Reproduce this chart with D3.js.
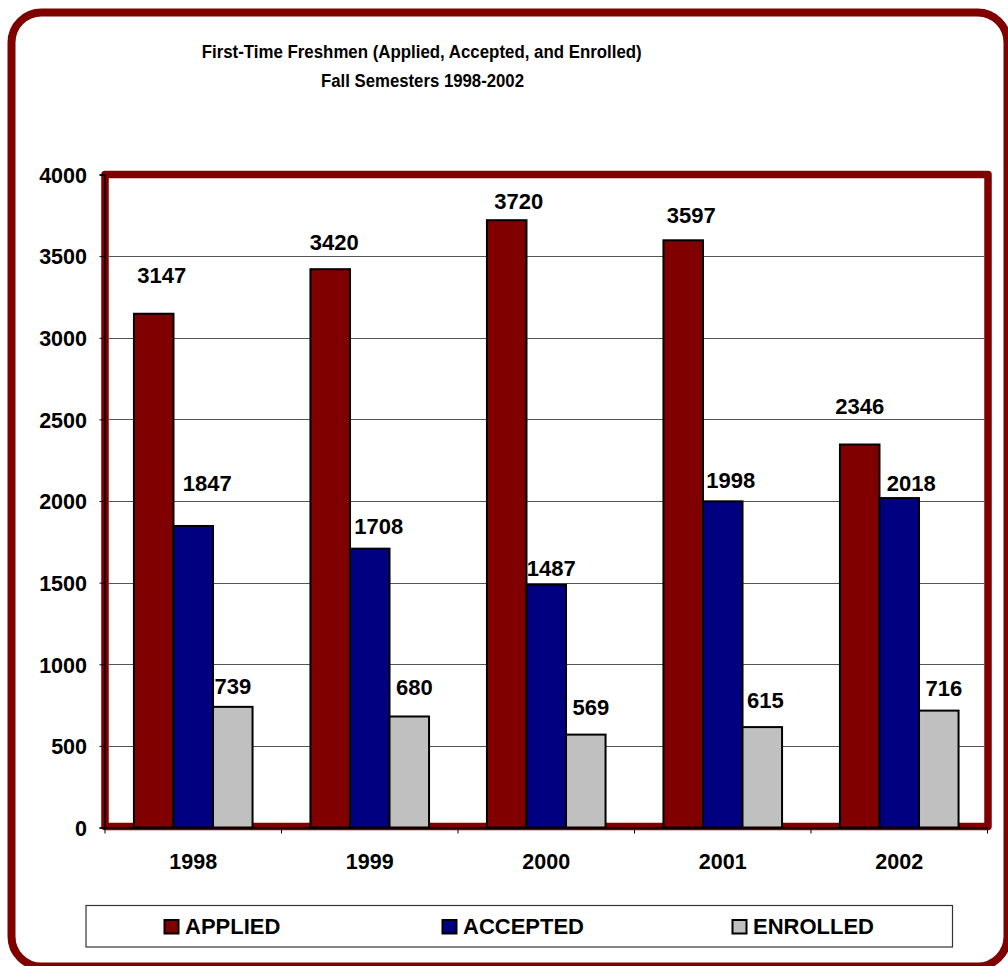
<!DOCTYPE html>
<html><head><meta charset="utf-8">
<script src="https://cdn.jsdelivr.net/npm/d3@7"></script>
<style>html,body{margin:0;padding:0;background:#fff;}svg{display:block;}</style>
</head><body>
<script>
// ---- data ----
const years = ["1998", "1999", "2000", "2001", "2002"];
const seriesNames = ["APPLIED", "ACCEPTED", "ENROLLED"];
const applied  = [3147, 3420, 3720, 3597, 2346];
const accepted = [1847, 1708, 1487, 1998, 2018];
const enrolled = [739, 680, 569, 615, 716];
const yTicks = [0, 500, 1000, 1500, 2000, 2500, 3000, 3500, 4000];
const titleLines = ["First-Time Freshmen (Applied, Accepted, and Enrolled)", "Fall Semesters 1998-2002"];

// ---- layout / style (kept separate from data) ----
const colors = ["#800000", "#000080", "#C0C0C0"];
const frameColor = "#800000";
// manual label nudges [dx, dy] in px relative to bar centre/top, per series, per year
const labelNudge = [
  [[8, -31], [4, -19], [12, -11], [8, -17], [0, -31]],
  [[14, -35], [9, -15], [5, -9], [8, -13], [12, -7]],
  [[0, -13], [5, -21], [5, -20], [3, -19], [5, -15]]
];

const W = 1008, H = 966;
const plot = {left: 105, right: 987.5, top: 174.5, bottom: 827.5};
const font = "'Liberation Sans', Arial, sans-serif";

const svg = d3.select("body").append("svg").attr("width", W).attr("height", H);

// outer rounded border
svg.append("rect").attr("x", 11.5).attr("y", 12.5).attr("width", 996).attr("height", 954)
  .attr("rx", 30).attr("ry", 30).attr("fill", "#fff").attr("stroke", frameColor).attr("stroke-width", 8);

// title
const title = svg.append("g").attr("font-family", font).attr("font-weight", "bold").attr("fill", "#000");
title.append("text").attr("x", 421.7).attr("y", 57.5).attr("text-anchor", "middle")
  .attr("font-size", 18).attr("textLength", 440).attr("lengthAdjust", "spacingAndGlyphs").text(titleLines[0]);
title.append("text").attr("x", 422.5).attr("y", 86.7).attr("text-anchor", "middle")
  .attr("font-size", 18).attr("textLength", 203).attr("lengthAdjust", "spacingAndGlyphs").text(titleLines[1]);

// scales
const x0 = d3.scaleBand().domain(years).range([plot.left, plot.right]).padding(0);
const bw = x0.bandwidth();
const x1 = d3.scaleBand().domain(seriesNames).range([bw * 0.164, bw * 0.836]).padding(0);
const y = d3.scaleLinear().domain([0, 4000]).range([plot.bottom, plot.top]);

const series = [applied, accepted, enrolled];

// plot frame (red)
svg.append("rect").attr("x", plot.left).attr("y", plot.top).attr("width", 988 - plot.left)
  .attr("height", plot.bottom - plot.top - 1).attr("fill", "#fff")
  .attr("stroke", frameColor).attr("stroke-width", 7.5).attr("stroke-linejoin", "round");

// gridlines
svg.append("g").selectAll("line").data(yTicks.filter(d => d > 0 && d < 4000)).join("line")
  .attr("x1", plot.left + 3).attr("x2", 985).attr("y1", d => Math.round(y(d)) + 0.5).attr("y2", d => Math.round(y(d)) + 0.5)
  .attr("stroke", "#555").attr("stroke-width", 1);

// bars
const groups = svg.append("g").selectAll("g").data(years).join("g")
  .attr("transform", d => `translate(${x0(d)},0)`);
groups.selectAll("rect").data((d, i) => seriesNames.map((s, j) => ({s, j, v: series[j][i]}))).join("rect")
  .attr("x", d => x1(d.s)).attr("width", x1.bandwidth())
  .attr("y", d => y(d.v)).attr("height", d => y(0) - y(d.v))
  .attr("fill", d => colors[d.j]).attr("stroke", "#000").attr("stroke-width", 2);

// axes
const yAxis = d3.axisLeft(y).tickValues(yTicks).tickSize(5).tickFormat(d3.format("d"));
const gy = svg.append("g").attr("transform", `translate(${plot.left - 0.5},0)`).call(yAxis);
gy.select(".domain").attr("stroke", "#000").attr("stroke-width", 1.5);
gy.selectAll(".tick line").attr("stroke", "#000");
gy.selectAll(".tick text").attr("x", -17.5).attr("dy", "0.36em")
  .attr("font-family", font).attr("font-weight", "bold").attr("font-size", 21.5).attr("fill", "#000");

const xAxis = d3.axisBottom(x0).tickSize(0).tickSizeOuter(0);
const gx = svg.append("g").attr("transform", `translate(0,${plot.bottom})`).call(xAxis);
gx.select(".domain").attr("stroke", "#000").attr("stroke-width", 1.5);
gx.selectAll(".tick text").attr("y", 0).attr("dy", 0).attr("transform", "translate(0,41.5)")
  .attr("font-family", font).attr("font-weight", "bold").attr("font-size", 21.5).attr("fill", "#000");
// category boundary ticks
gx.append("g").selectAll("line").data(years.concat(["end"])).join("line")
  .attr("x1", (d, i) => i < years.length ? x0(d) : x0(years[years.length - 1]) + bw)
  .attr("x2", (d, i) => i < years.length ? x0(d) : x0(years[years.length - 1]) + bw)
  .attr("y1", 0).attr("y2", 6).attr("stroke", "#000").attr("stroke-width", 1);

// data labels
groups.selectAll("text.lbl").data((d, i) => seriesNames.map((s, j) => ({s, j, i, v: series[j][i]}))).join("text")
  .attr("class", "lbl")
  .attr("x", d => x1(d.s) + x1.bandwidth() / 2 + labelNudge[d.j][d.i][0])
  .attr("y", d => y(d.v) + labelNudge[d.j][d.i][1])
  .attr("text-anchor", "middle").attr("font-family", font).attr("font-weight", "bold")
  .attr("font-size", 22).attr("fill", "#000").text(d => d.v);

// legend
const leg = svg.append("g");
leg.append("rect").attr("x", 86).attr("y", 905.5).attr("width", 866.5).attr("height", 41.5)
  .attr("fill", "#fff").attr("stroke", "#333").attr("stroke-width", 1.2);
const legX = [163.5, 441.5, 731.5];
const li = leg.selectAll("g").data(seriesNames).join("g").attr("transform", (d, i) => `translate(${legX[i]},0)`);
li.append("rect").attr("x", 1).attr("y", 920).attr("width", 14).attr("height", 13.5)
  .attr("fill", (d, i) => colors[i]).attr("stroke", "#000").attr("stroke-width", 2);
li.append("text").attr("x", 21.5).attr("y", 934).attr("font-family", font).attr("font-weight", "bold")
  .attr("font-size", 22).attr("fill", "#000").text(d => d);
</script>
</body></html>
